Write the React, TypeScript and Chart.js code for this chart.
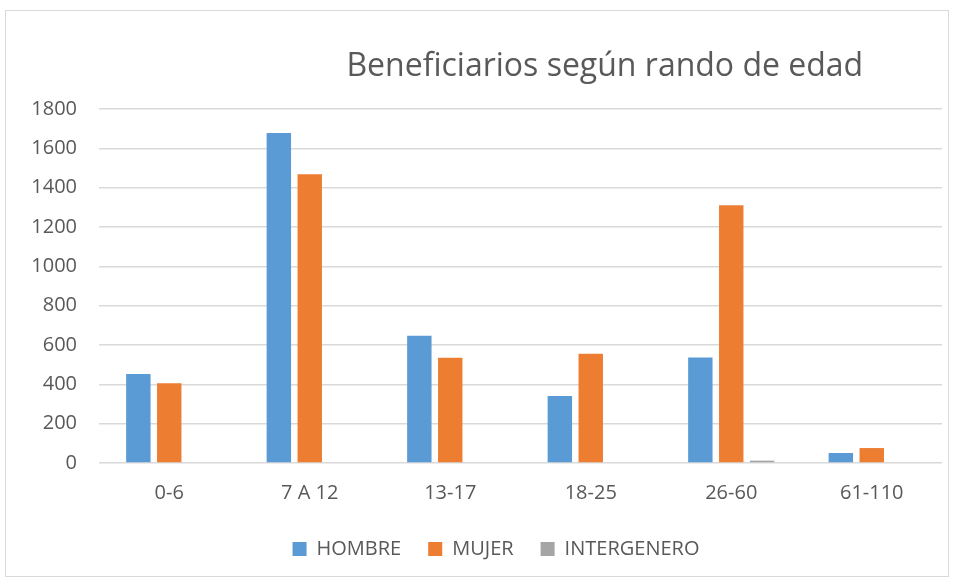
import React, { useEffect, useRef } from "react";
import { Chart, registerables } from "chart.js";

Chart.register(...registerables);

const titleText = "Beneficiarios según rando de edad";
const categories = ["0-6", "7 A 12", "13-17", "18-25", "26-60", "61-110"];
const hombre = [453, 1678, 647, 341, 537, 51];
const mujer = [405, 1468, 535, 555, 1310, 76];
const intergenero = [0, 0, 0, 0, 12, 0];
const seriesNames = ["HOMBRE", "MUJER", "INTERGENERO"];
const yTicks = [0, 200, 400, 600, 800, 1000, 1200, 1400, 1600, 1800];

const FONT = "'Open Sans', 'Noto Sans', 'DejaVu Sans', sans-serif";
const TEXT = "#595959";

export default function App() {
  const ref = useRef<HTMLCanvasElement>(null);

  useEffect(() => {
    if (!ref.current) return;
    const titlePlugin = {
      id: "customTitle",
      afterDraw(chart: any) {
        const { ctx, chartArea } = chart;
        ctx.save();
        ctx.font = `32px ${FONT}`;
        ctx.fillStyle = TEXT;
        ctx.textAlign = "center";
        ctx.textBaseline = "middle";
        ctx.fillText(titleText, chartArea.left + chartArea.width * 0.6, chartArea.top - 42);
        ctx.restore();
      },
    };
    const legendShift = {
      id: "legendShift",
      afterLayout(chart: any) {
        if (chart.legend) {
          chart.legend.left += 25;
          chart.legend.right += 25;
        }
      },
    };
    const chart = new Chart(ref.current, {
      type: "bar",
      data: {
        labels: categories,
        datasets: [
          { label: seriesNames[0], data: hombre, backgroundColor: "#5B9BD5" },
          { label: seriesNames[1], data: mujer, backgroundColor: "#ED7D31" },
          { label: seriesNames[2], data: intergenero, backgroundColor: "#A5A5A5" },
        ],
      },
      options: {
        responsive: false,
        animation: false,
        layout: { padding: { top: 109, right: 14, left: 0, bottom: 14 } },
        datasets: {
          bar: { categoryPercentage: 0.66, barPercentage: 0.79 },
        },
        scales: {
          x: {
            grid: { display: false },
            border: { display: false },
            ticks: { color: TEXT, font: { family: FONT, size: 20 }, padding: 10 },
            afterFit(scale: any) {
              scale.height = 49;
            },
          },
          y: {
            min: 0,
            max: 1800,
            afterBuildTicks(scale: any) {
              scale.ticks = yTicks.map((v) => ({ value: v }));
            },
            grid: { color: "#D9D9D9", lineWidth: 1.5, drawTicks: false },
            border: { display: false },
            ticks: {
              color: TEXT,
              font: { family: FONT, size: 20 },
              padding: 22,
              callback: (v: any) => String(v),
            },
            afterFit(scale: any) {
              scale.width = 99;
            },
          },
        },
        plugins: {
          title: { display: false },
          tooltip: { enabled: false },
          legend: {
            position: "bottom",
            labels: {
              color: TEXT,
              font: { family: FONT, size: 20 },
              boxWidth: 14,
              boxHeight: 14,
              padding: 27,
            },
          },
        },
      },
      plugins: [titlePlugin, legendShift],
    });
    return () => chart.destroy();
  }, []);

  return (
    <div style={{ position: "fixed", left: 0, top: 0, width: 956, height: 583, background: "#fff" }}>
      <div
        style={{
          position: "absolute",
          left: 5,
          top: 10,
          width: 944,
          height: 567,
          border: "1px solid #D9D9D9",
          boxSizing: "border-box",
        }}
      />
      <canvas ref={ref} width={956} height={583} style={{ position: "absolute", left: 0, top: 0 }} />
    </div>
  );
}
